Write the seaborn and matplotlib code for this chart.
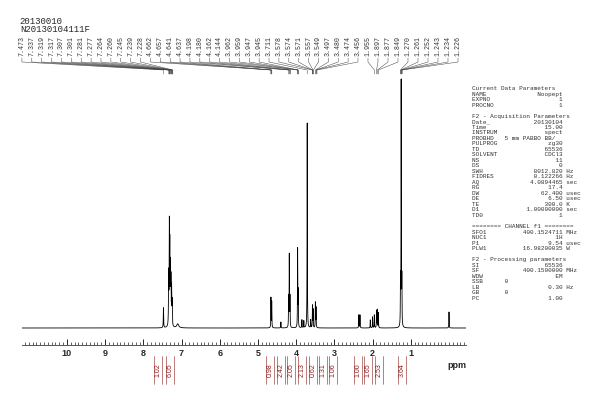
import numpy as np
import pandas as pd
import matplotlib
matplotlib.use('Agg')
import matplotlib.pyplot as plt
import matplotlib.transforms as mtrans
import seaborn as sns

# peaks: ppm, height (px above baseline), half width
peak_ppm = [7.473, 7.337, 7.319, 7.307, 7.29, 7.277, 7.26, 7.245, 7.10, 4.66, 4.64, 4.40,
            4.198, 4.180, 4.162, 3.962, 3.947, 3.85, 3.80, 3.711, 3.62, 3.574, 3.557, 3.497, 3.48,
            2.36, 2.33, 2.06, 2.00, 1.955, 1.897, 1.877, 1.849, 1.27, 1.252, 1.234, 0.0]
peak_h = [20, 50, 95, 72, 55, 42, 36, 24, 4, 30, 26, 6,
          30, 72, 30, 78, 35, 8, 7, 205, 8, 22, 18, 25, 20,
          13, 13, 8, 11, 13, 17, 18, 15, 45, 245, 45, 16]
peak_w = [0.005] * 8 + [0.03] + [0.004] * 28

top_labels = ['7.473', '7.337', '7.319', '7.317', '7.307', '7.301', '7.281', '7.277', '7.264',
              '7.260', '7.245', '7.239', '7.228', '4.662', '4.657', '4.641', '4.637', '4.198',
              '4.180', '4.162', '4.144', '3.962', '3.959', '3.947', '3.945', '3.711', '3.578',
              '3.574', '3.571', '3.557', '3.549', '3.497', '3.480', '3.474', '3.456',
              '1.955', '1.897', '1.877', '1.849', '1.270', '1.261', '1.252', '1.243', '1.234', '1.226']

integ_vals = ['1.02', '6.05', '0.98', '2.42', '2.05', '2.13', '0.62', '1.31', '1.06',
              '1.00', '1.65', '2.53', '3.64']
integ_ppm = [7.62, 7.30, 4.68, 4.40, 4.14, 3.85, 3.56, 3.30, 3.04, 2.38, 2.12, 1.83, 1.23]

params = """Current Data Parameters
NAME              Noopept
EXPNO                   1
PROCNO                  1

F2 - Acquisition Parameters
Date_            20130104
Time                15.00
INSTRUM             spect
PROBHD   5 mm PABBO BB/
PULPROG              zg30
TD                  65536
SOLVENT             CDCl3
NS                     11
DS                      0
SWH              8012.820 Hz
FIDRES           0.122266 Hz
AQ              4.0894465 sec
RG                   17.4
DW                 62.400 usec
DE                   6.50 usec
TE                  300.0 K
D1             1.00000000 sec
TD0                     1

======== CHANNEL f1 ========
SFO1          400.1524711 MHz
NUC1                   1H
P1                   9.54 usec
PLW1          16.98200035 W

F2 - Processing parameters
SI                  65536
SF            400.1500000 MHz
WDW                    EM
SSB      0
LB                   0.30 Hz
GB       0
PC                   1.00"""

sns.set_theme(style='white')
plt.rcParams['font.family'] = ['Liberation Sans', 'DejaVu Sans']

x = np.linspace(11.2, -0.45, 40000)
y = np.zeros_like(x)
for p, h, w in zip(peak_ppm, peak_h, peak_w):
    y += h / (1 + ((x - p) / w) ** 2)
df = pd.DataFrame({'ppm': x, 'I': y})

fig = plt.figure(figsize=(6, 4), dpi=100)
ax = fig.add_axes([0.037, 0.1375, 0.74, 0.6675])
sns.lineplot(data=df, x='ppm', y='I', color='black', lw=0.6, ax=ax, estimator=None, sort=False)
ax.set_xlim(11.17, -0.45)
ax.set_ylim(-17, 250)
ax.set_xlabel('')
ax.set_ylabel('')
for s in ['top', 'left', 'right']:
    ax.spines[s].set_visible(False)
ax.spines['bottom'].set_color('#555555')
ax.spines['bottom'].set_linewidth(0.7)
ax.set_yticks([])
ax.set_xticks(range(1, 11))
ax.set_xticks(np.arange(-0.4, 11.15, 0.1), minor=True)
ax.tick_params(axis='x', which='major', direction='in', length=4, width=0.7, labelsize=6.5, pad=3, bottom=True)
ax.tick_params(axis='x', which='minor', direction='in', length=2.5, width=0.5, bottom=True)
for t in ax.get_xticklabels():
    t.set_fontweight('bold')
ax.text(1.0, -0.06, 'ppm', transform=ax.transAxes, fontsize=6.5, fontweight='bold', ha='right', va='top')

# helpers: pixel -> ppm
def px2ppm(px):
    return 10 - (px - 67) / 38.2

bt = mtrans.blended_transform_factory(ax.transData, fig.transFigure)
def fy(py):
    return 1 - py / 400

# peak labels with leaders
pos = list(np.linspace(22, 358, 35)) + list(np.linspace(368, 458, 10))
for lab, px in zip(top_labels, pos):
    lx = px2ppm(px)
    ax.text(lx, fy(56), lab, transform=bt, rotation=90, fontsize=4.8, family='Liberation Mono',
            ha='center', va='bottom', color='#333333', clip_on=False)
    pv = float(lab)
    ax.plot([lx, lx, pv, pv], [fy(58), fy(62), fy(70), fy(74)], transform=bt,
            color='#444444', lw=0.35, clip_on=False)

fig.text(0.033, 1 - 22 / 400, '20130010', fontsize=6.5, family='Liberation Mono', va='center')
fig.text(0.033, 1 - 30 / 400, 'N20130104111F', fontsize=6.5, family='Liberation Mono', va='center')

# integrals
for v, p in zip(integ_vals, integ_ppm):
    ax.text(p, fy(370), v, transform=bt, rotation=90, fontsize=5, color='#8b1a1a',
            ha='center', va='center', clip_on=False)
    ax.plot([p - 0.1, p - 0.1], [fy(356), fy(384)], transform=bt, color='#8b1a1a', lw=0.4, clip_on=False)
    ax.plot([p + 0.1, p + 0.1], [fy(356), fy(384)], transform=bt, color='#8b1a1a', lw=0.4, clip_on=False)

fig.text(0.787, 1 - 86 / 400, params, fontsize=4.3, family='Liberation Mono', va='top',
         linespacing=1.13, color='#333333')

fig.savefig('out.png', dpi=100)
